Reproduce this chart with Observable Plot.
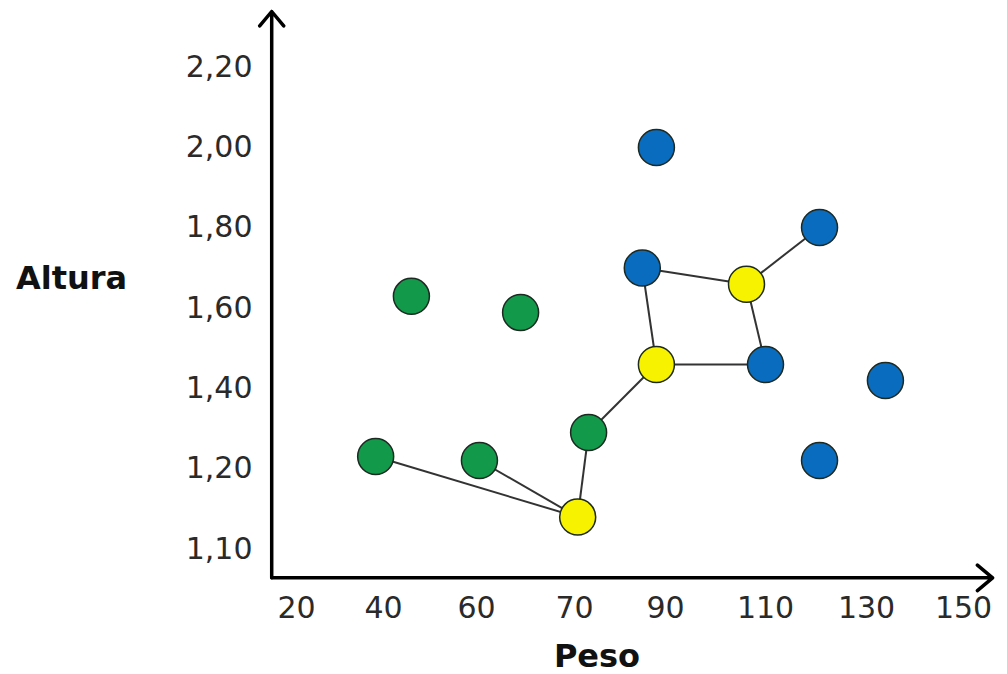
<!DOCTYPE html>
<html>
<head>
<meta charset="utf-8">
<script src="https://cdn.jsdelivr.net/npm/d3@7"></script>
<script src="https://cdn.jsdelivr.net/npm/@observablehq/plot@0.6"></script>
<style>
  html, body { margin: 0; padding: 0; background: #ffffff; }
  #chart { width: 1007px; height: 674px; }
</style>
</head>
<body>
<div id="chart"></div>
<script>
// Tick labels (values shown on the axes, unevenly valued but evenly placed)
const xTicks = [20, 40, 60, 70, 90, 110, 130, 150];
const yTicks = [1.10, 1.20, 1.40, 1.60, 1.80, 2.00, 2.20];

// Axis extents (data units) for the arrowed axis lines
const xExtent = [14.3, 156];
const yExtent = [1.065, 2.34];

// Points: weight (Peso), height (Altura), class
const peso   = [38.2, 46.0, 64.5, 60.3, 73.1, 70.7, 88.0, 106.2, 88.0, 84.9, 120.7, 110.0, 133.9, 120.7];
const altura = [1.23, 1.63, 1.59, 1.22, 1.29, 1.14, 1.46, 1.66, 2.00, 1.70, 1.80, 1.46, 1.42, 1.22];
const clase  = ["verde","verde","verde","verde","verde","amarillo","amarillo","amarillo","azul","azul","azul","azul","azul","azul"];

// Connections between points (indices)
const edgeFrom = [0, 3, 5, 4, 6, 6, 9, 7, 7];
const edgeTo   = [5, 5, 4, 6, 9, 11, 7, 10, 11];

const classes = ["verde", "amarillo", "azul"];
const classColors = ["#12994a", "#f7f300", "#0a6cbf"];

const points = peso.map((p, i) => ({peso: p, altura: altura[i], clase: clase[i]}));
const edges = edgeFrom.map((a, i) => ({
  x1: peso[a], y1: altura[a], x2: peso[edgeTo[i]], y2: altura[edgeTo[i]]
}));

const W = 1007, H = 674;
const chart = Plot.plot({
  width: W,
  height: H,
  marginLeft: 271,
  marginRight: 15,
  marginTop: 0,
  marginBottom: 98,
  style: {fontFamily: "'DejaVu Sans', Verdana, sans-serif", background: "#ffffff", color: "#222"},
  x: {type: "linear", domain: xTicks, range: [296, 383, 476, 574, 665, 765, 866, 963]},
  y: {type: "linear", domain: yTicks, range: [549, 468, 388, 308, 227, 147, 67]},
  color: {domain: classes, range: classColors},
  marks: [
    Plot.axisX({ticks: xTicks, tickSize: 0, tickPadding: 20, fontSize: 30, label: null, tickFormat: d => String(d), fill: "#2a2a2a"}),
    Plot.axisY({ticks: yTicks, tickSize: 0, tickPadding: 19, fontSize: 30, label: null,
      tickFormat: d => d3.format(".2f")(d).replace(".", ","), fill: "#2a2a2a"}),
    Plot.arrow([0], {x1: xExtent[0], x2: xExtent[1], y1: yExtent[0], y2: yExtent[0],
      stroke: "#000", strokeWidth: 3.5, headLength: 8.5, headAngle: 80, strokeLinecap: "round", strokeLinejoin: "round"}),
    Plot.arrow([0], {x1: xExtent[0], x2: xExtent[0], y1: yExtent[0], y2: yExtent[1],
      stroke: "#000", strokeWidth: 3.5, headLength: 8, headAngle: 80, strokeLinecap: "round", strokeLinejoin: "round"}),
    Plot.link(edges, {x1: "x1", y1: "y1", x2: "x2", y2: "y2", stroke: "#333", strokeWidth: 2}),
    Plot.dot(points, {x: "peso", y: "altura", r: 18, fill: "clase", stroke: "#1d2a22", strokeWidth: 1.5}),
    Plot.text(["Altura"], {frameAnchor: "left", dx: -200, dy: -10, fontSize: 32, fontWeight: "bold", fill: "#111", textAnchor: "middle"}),
    Plot.text(["Peso"], {frameAnchor: "bottom", dx: -35, dy: 90, fontSize: 32, fontWeight: "bold", fill: "#111", textAnchor: "middle"})
  ]
});
document.getElementById("chart").appendChild(chart);
</script>
</body>
</html>
